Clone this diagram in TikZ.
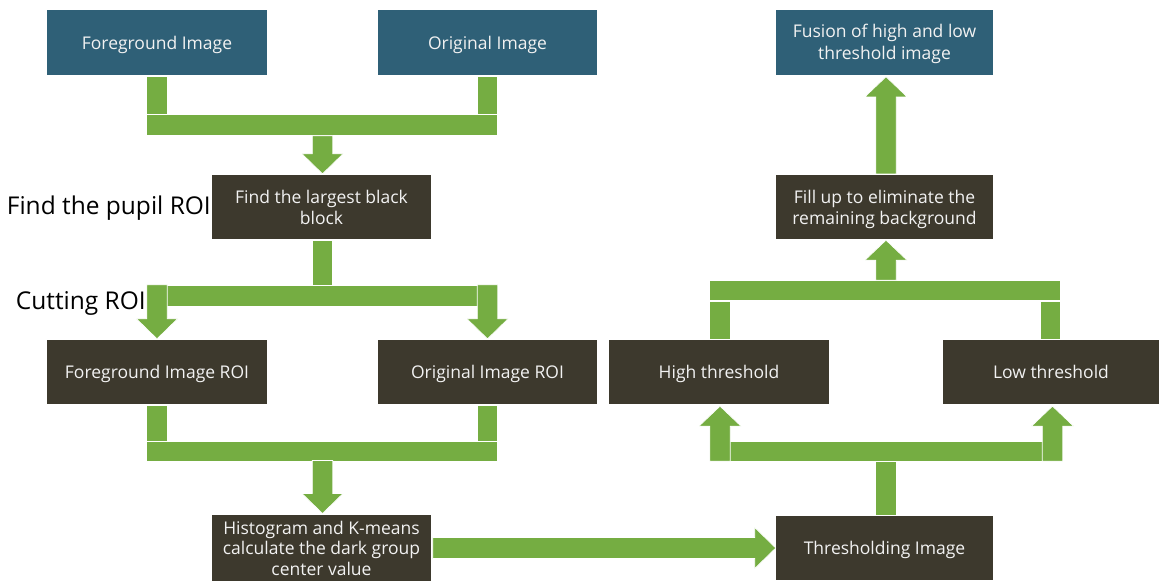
\documentclass[tikz,border=0pt]{standalone}
\usepackage{fontspec}
\setmainfont{Open Sans}
\usetikzlibrary{calc}

\definecolor{boxteal}{HTML}{2F6077}
\definecolor{boxdark}{HTML}{3D392D}
\definecolor{flowgreen}{HTML}{75AD42}
\definecolor{boxtext}{HTML}{F2F2F2}

% extra head room on the first line of a box label
\newcommand\headroom{\rule{0pt}{19.5pt}}

\tikzset{
  basebox/.style={rectangle, inner sep=0pt, minimum height=64pt, align=center,
    text=boxtext, font=\fontsize{17.5}{21}\selectfont,
    execute at begin node=\headroom, execute at end node=\strut},
  tealbox/.style={basebox, fill=boxteal},
  darkbox/.style={basebox, fill=boxdark},
  sidelabel/.style={inner sep=0pt, font=\fontsize{24.5}{28}\selectfont, text=black, anchor=east},
  gfill/.style={fill=flowgreen, draw=white, line width=0.6pt},
  % vertical bar of given length, hanging down from its top centre
  pics/stub/.style={code={\filldraw[gfill] (-10.25,0) rectangle (10.25,#1);}},
  % block arrow pointing down, total length #1, from its top centre
  pics/dnarrow/.style={code={\filldraw[gfill] (-10.25,0) -- (10.25,0) -- (10.25,#1-20)
      -- (20.5,#1-20) -- (0,#1) -- (-20.5,#1-20) -- (-10.25,#1-20) -- cycle;}},
  % block arrow pointing up, total length #1, from its bottom centre
  pics/uparrow/.style={code={\filldraw[gfill] (-10.25,0) -- (10.25,0) -- (10.25,20-#1)
      -- (21,20-#1) -- (0,-#1) -- (-21,20-#1) -- (-10.25,20-#1) -- cycle;}},
  % block arrow pointing right, total length #1, from its left centre
  pics/rtarrow/.style={code={\filldraw[gfill] (0,-10.5) -- (#1-21,-10.5) -- (#1-21,-20.5)
      -- (#1,0) -- (#1-21,20.5) -- (#1-21,10.5) -- (0,10.5) -- cycle;}},
}

\begin{document}
\begin{tikzpicture}[x=1pt, y=-1pt]
\useasboundingbox[fill=white] (0,0) rectangle (1159,581);

% ---- boxes ----
\node[tealbox, minimum width=220pt, minimum height=65pt] (fg)     at (157,42.5)   {Foreground Image};
\node[tealbox, minimum width=219pt, minimum height=65pt] (orig)   at (487.5,42.5) {Original Image};
\node[tealbox, minimum width=217pt, minimum height=65pt, font=\fontsize{17.5}{22}\selectfont] (fusion) at (884.5,42.5)
  {\headroom Fusion of high and low\\threshold image};
\node[darkbox, minimum width=219pt] (find)    at (321.5,207)  {\headroom Find the largest black\\block};
\node[darkbox, minimum width=217pt] (fill)    at (884.5,207)  {\headroom Fill up to eliminate the\\remaining background};
\node[darkbox, minimum width=220pt] (fgroi)   at (157,372)    {Foreground Image ROI};
\node[darkbox, minimum width=219pt] (origroi) at (487.5,372)  {Original Image ROI};
\node[darkbox, minimum width=220pt] (high)    at (719,372)    {High threshold};
\node[darkbox, minimum width=216pt] (low)     at (1051,372)   {Low threshold};
\node[darkbox, minimum width=219pt, font=\fontsize{17.5}{20.5}\selectfont] (hist) at (321.5,548)
  {\headroom Histogram and K-means\\calculate the dark group\\center value};
\node[darkbox, minimum width=217pt] (thr)     at (884.5,548)  {Thresholding Image};

% ---- side labels ----
\node[sidelabel] (lblfind) at (211,208) {Find the pupil ROI};
\node[sidelabel] (lblcut)  at (146,303) {Cutting ROI};

% ---- images merge into the block search ----
\pic at ($(fg.south)+(0,1)$)   {stub=38};
\pic at ($(orig.south)+(0,1)$) {stub=38};
\filldraw[gfill] ($(fg.south)+(-10.25,39.5)$) rectangle ($(orig.south)+(10.25,60)$);
\pic at ($(find.north)+(1,-39)$) {dnarrow=38};

% ---- block search splits into the two ROIs ----
\pic at ($(find.south)+(1,1)$) {stub=45};
\filldraw[gfill] ($(fgroi.north)+(-10.25,-55)$) rectangle ($(origroi.north)+(10.25,-34)$);
\pic at ($(fgroi.north)+(0,-55)$)   {dnarrow=54};
\pic at ($(origroi.north)+(0,-55)$) {dnarrow=54};

% ---- ROIs merge into the histogram step ----
\pic at ($(fgroi.south)+(0,1)$)   {stub=36};
\pic at ($(origroi.south)+(0,1)$) {stub=36};
\filldraw[gfill] ($(fgroi.south)+(-10.25,37)$) rectangle ($(origroi.south)+(10.25,57)$);
\pic at ($(hist.north)+(1,-54)$) {dnarrow=53};

% ---- histogram to thresholding ----
\pic at ($(hist.east)+(1.5,0)$) {rtarrow=343};

% ---- thresholding splits into high / low ----
\filldraw[gfill] ($(thr.north)+(-8.75,-1)$) rectangle ($(thr.north)+(11.75,-55)$);
\filldraw[gfill] ($(high.south)+(-9.25,37)$) rectangle ($(low.south)+(11.75,57)$);
\pic at ($(high.south)+(1,57)$) {uparrow=55};
\pic at ($(low.south)+(1.5,57)$) {uparrow=55};

% ---- high / low merge into the fill step ----
\filldraw[gfill] ($(high.north)+(-9.25,-1)$) rectangle ($(high.north)+(11.25,-39)$);
\filldraw[gfill] ($(low.north)+(-10.75,-1)$) rectangle ($(low.north)+(9.75,-39)$);
\filldraw[gfill] ($(high.north)+(-9.25,-40)$) rectangle ($(low.north)+(9.75,-60)$);
\pic at ($(fill.south)+(1.5,41)$) {uparrow=40};

% ---- fill to fusion ----
\pic at ($(fill.north)+(1.5,-1)$) {uparrow=97};
\end{tikzpicture}
\end{document}
